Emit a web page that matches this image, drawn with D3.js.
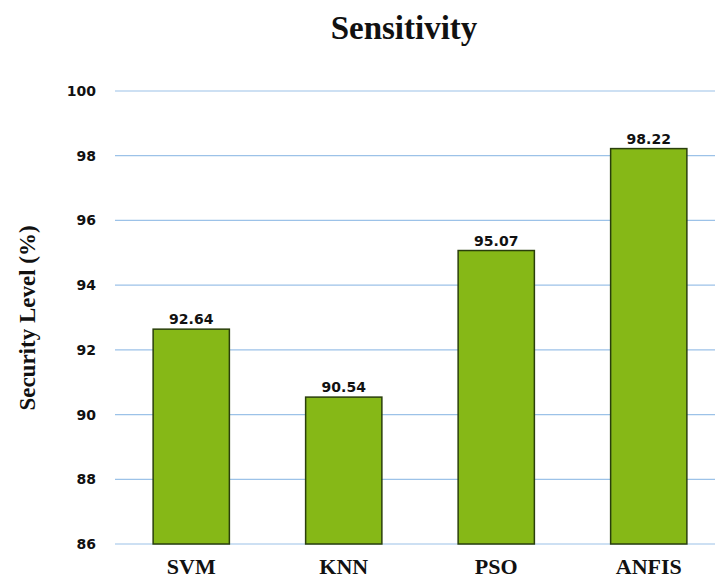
<html>
<head>
<meta charset="utf-8">
<title>Sensitivity</title>
<script src="https://d3js.org/d3.v7.min.js"></script>
<style>
body { margin: 0; background: #fff; }
</style>
</head>
<body>
<svg width="715" height="580"></svg>
<script>
var categories = ["SVM", "KNN", "PSO", "ANFIS"];
var values = [92.64, 90.54, 95.07, 98.22];
var yTicks = [86, 88, 90, 92, 94, 96, 98, 100];

var svg = d3.select("svg"),
    margin = {top: 91, left: 115},
    g = svg.append("g").attr("transform", `translate(${margin.left},${margin.top})`);

var width = 610, height = 453;

var x = d3.scaleBand().domain(categories).range([0, width]).paddingInner(0.5).paddingOuter(0.25);
var y = d3.scaleLinear().domain([86, 100]).range([height, 0]);

// gridlines
g.append("g").selectAll("line").data(yTicks).enter().append("line")
    .attr("x1", 0).attr("x2", width)
    .attr("y1", d => y(d)).attr("y2", d => y(d))
    .attr("stroke", "#9cc2e8").attr("stroke-width", 1.2);

// y axis labels
var yAxis = g.append("g").attr("transform", "translate(-19,0)")
    .call(d3.axisLeft(y).tickValues(yTicks).tickSize(0).tickPadding(0));
yAxis.select(".domain").remove();
yAxis.selectAll("text")
    .style("font", "bold 14px 'DejaVu Sans', Verdana, sans-serif")
    .attr("fill", "#111");

// bars
g.selectAll("rect.bar").data(values).enter().append("rect")
    .attr("class", "bar")
    .attr("x", (d, i) => x(categories[i]))
    .attr("y", d => y(d))
    .attr("width", x.bandwidth())
    .attr("height", d => height - y(d))
    .attr("fill", "#86b817")
    .attr("stroke", "#2a3f0c")
    .attr("stroke-width", 1.5);

// value labels
g.selectAll("text.val").data(values).enter().append("text")
    .attr("class", "val")
    .attr("x", (d, i) => x(categories[i]) + x.bandwidth() / 2)
    .attr("y", d => y(d) - 5)
    .attr("text-anchor", "middle")
    .style("font", "bold 14px 'DejaVu Sans', Verdana, sans-serif")
    .attr("fill", "#111")
    .text(d => d.toFixed(2));

// x axis labels
var xAxis = g.append("g").attr("transform", `translate(0,${height})`)
    .call(d3.axisBottom(x).tickSize(0).tickPadding(14));
xAxis.select(".domain").remove();
xAxis.selectAll("text")
    .style("font", "bold 22px 'Liberation Serif', 'Times New Roman', serif")
    .attr("fill", "#111");

// title
svg.append("text")
    .attr("x", 404).attr("y", 39)
    .attr("text-anchor", "middle")
    .style("font", "bold 33px 'Liberation Serif', 'Times New Roman', serif")
    .attr("fill", "#111")
    .text("Sensitivity");

// y axis title
svg.append("text")
    .attr("transform", "translate(35,318) rotate(-90)")
    .attr("text-anchor", "middle")
    .style("font", "bold 23px 'Liberation Serif', 'Times New Roman', serif")
    .attr("fill", "#111")
    .text("Security Level (%)");
</script>
</body>
</html>
